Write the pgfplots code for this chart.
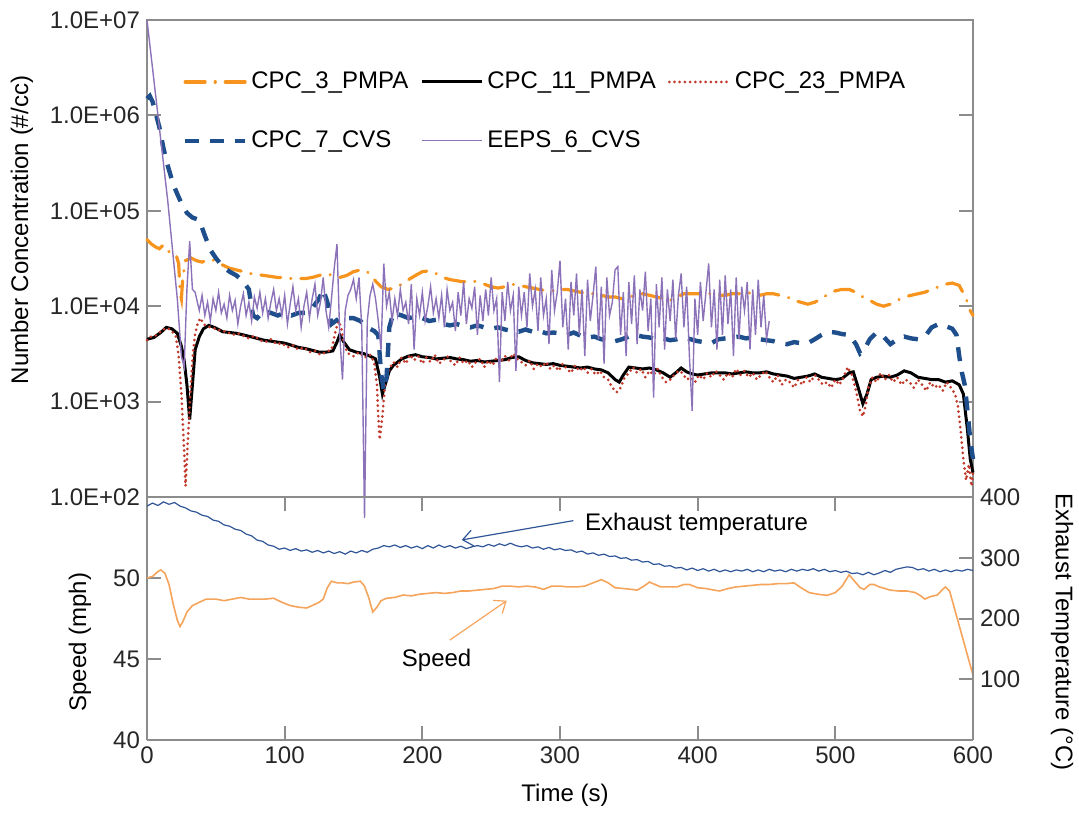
\documentclass[border=0pt]{standalone}
\usepackage{fontspec}
\setmainfont{Liberation Sans}
\usepackage{pgfplots}
\pgfplotsset{compat=1.18}
\usetikzlibrary{arrows.meta}
\definecolor{corange}{HTML}{F7941D}
\definecolor{cred}{HTML}{C0392B}
\definecolor{cblue}{HTML}{1F4E8C}
\definecolor{cpurple}{HTML}{8C72B8}
\definecolor{ctemp}{HTML}{2F5597}
\definecolor{cspeed}{HTML}{F6A45C}
\definecolor{caxis}{HTML}{8C8C8C}
\pgfplotsset{
  every axis/.append style={
    scale only axis, width=413pt, xmin=0, xmax=600,
    tick align=inside, major tick length=7pt,
    axis line style={caxis, line width=1pt},
    tick style={caxis, line width=1pt},
    ticklabel style={font=\fontsize{12}{14}\selectfont, text=black!85},
    /pgf/number format/assume math mode=true,
  }
}
\begin{document}
\begin{tikzpicture}[font=\fontsize{12}{14}\selectfont]
\useasboundingbox (0pt,0pt) rectangle (539.5pt,-406.5pt);
% ---------------- upper panel ----------------
\begin{axis}[
  at={(73.5pt,-248.5pt)}, anchor=south west, height=238.5pt,
  ymode=log, ymin=1e2, ymax=1e7,
  xtick=\empty,
  ytick={1e2,1e3,1e4,1e5,1e6,1e7},
  yticklabels={1.0E+02,1.0E+03,1.0E+04,1.0E+05,1.0E+06,1.0E+07},
  yminorticks=false,
  clip=false,
  legend columns=3,
  legend style={draw=none, fill=none, inner sep=0pt, at={(0.043,0.9)}, anchor=north west,
    font=\fontsize{12}{14}\selectfont, row sep=15.5pt,
    /tikz/every even column/.append style={column sep=4pt}},
  legend cell align=left,
  legend image code/.code={\draw[#1] (0pt,0pt) -- (30pt,0pt);},
]
% CPC_3_PMPA
\addplot[corange, line width=1.6pt, line cap=round, dash pattern=on 10pt off 5pt on 0.1pt off 5pt] coordinates {
(0,50000)(3,45000)(6,42000)(9,40000)(12,44000)(15,38000)(18,36000)(21,35000)(23,28000)(24,14000)(25,12000)(26,20000)(28,30000)(32,32000)(36,30000)(40,29000)(45,31000)(50,30000)(55,27000)(60,25000)(65,24000)(70,23000)(75,22000)(80,21500)(85,21000)(90,20500)(95,20000)(100,20000)(105,19500)(110,19500)(115,19500)(120,20000)(125,21000)(130,22000)(135,21000)(140,20000)(145,21000)(150,23000)(155,24000)(160,23000)(165,19000)(170,16000)(175,15000)(180,15500)(185,17000)(190,19000)(195,21000)(200,23000)(205,23500)(210,22000)(215,20000)(220,19000)(225,18500)(230,18000)(235,18500)(240,18000)(245,17000)(250,16000)(255,15500)(260,16000)(265,17000)(270,16500)(275,16000)(280,15500)(285,15000)(290,14500)(295,14500)(300,15000)(305,15000)(310,14500)(315,14000)(320,13500)(325,13500)(330,13000)(335,12500)(340,12500)(345,12000)(350,12500)(355,13000)(360,13500)(365,13000)(370,12500)(375,12000)(380,11500)(385,12500)(390,13500)(395,13500)(400,13500)(405,13500)(410,13500)(415,13000)(420,13000)(425,13500)(430,13500)(435,14000)(440,13500)(445,13000)(450,13500)(455,13500)(460,13000)(465,12500)(470,11500)(475,11000)(480,10500)(485,11000)(490,12000)(495,13500)(500,14500)(505,15000)(510,15000)(515,14000)(520,12500)(525,11500)(530,10500)(535,10000)(540,10500)(545,11500)(550,12500)(555,13000)(560,13500)(565,14000)(570,15000)(575,16000)(580,17000)(585,17500)(590,16500)(595,12000)(598,9000)(600,8000)};
\addlegendentry{CPC\_3\_PMPA}
% CPC_11_PMPA
\addplot[black, line width=1.5pt] coordinates {
(0,4500)(5,4700)(10,5300)(14,6000)(18,5800)(22,5200)(25,3800)(27,2700)(29,1500)(31,650)(33,1500)(35,3500)(38,4800)(41,5800)(45,6300)(50,5900)(55,5400)(60,5300)(65,5200)(70,5000)(75,4800)(80,4600)(85,4400)(90,4300)(95,4200)(100,4100)(105,3900)(110,3700)(115,3600)(120,3450)(125,3300)(130,3300)(135,3400)(138,4200)(140,5000)(143,4200)(147,3500)(152,3300)(157,3200)(162,3000)(166,2800)(169,1800)(171,1200)(173,1500)(176,2100)(179,2400)(185,2800)(190,3000)(195,3100)(200,2950)(205,2900)(210,2800)(215,2850)(220,2900)(225,2800)(230,2750)(235,2650)(240,2700)(245,2600)(250,2650)(255,2700)(260,2750)(265,2900)(270,2950)(275,2700)(280,2550)(285,2500)(290,2450)(295,2500)(300,2400)(305,2350)(310,2300)(315,2250)(320,2300)(325,2200)(330,2150)(335,2000)(340,1700)(343,1600)(346,1900)(350,2300)(355,2250)(360,2200)(365,2250)(370,2150)(375,2000)(380,1800)(384,2000)(388,2250)(392,2050)(396,1950)(400,1900)(405,1950)(410,2000)(415,2000)(420,2000)(425,1950)(430,2000)(435,2050)(440,2000)(445,2000)(450,2050)(455,1950)(460,1900)(465,1850)(470,1750)(475,1800)(480,1850)(485,1950)(490,1800)(495,1750)(500,1700)(505,1750)(510,2000)(513,2050)(516,1500)(520,950)(523,1200)(526,1700)(530,1800)(535,1850)(540,1800)(545,1900)(550,2100)(555,2000)(560,1800)(565,1750)(570,1700)(575,1700)(580,1600)(585,1650)(590,1500)(593,1200)(596,500)(598,250)(600,180)};
\addlegendentry{CPC\_11\_PMPA}
% CPC_23_PMPA
\addplot[cred, line width=1.5pt, line cap=round, dash pattern=on 0pt off 2.6pt] coordinates {
(0,4400)(3,4800)(6,4900)(9,5300)(12,5700)(15,5900)(18,5500)(21,4800)(23,3000)(25,1200)(27,300)(28,130)(29,250)(31,900)(33,2800)(35,5200)(37,6800)(39,7500)(41,6500)(43,6200)(46,6000)(50,5800)(54,5500)(58,5400)(62,5000)(66,5200)(70,4900)(74,4600)(78,4900)(82,4400)(86,4200)(90,4500)(94,4000)(98,4100)(102,3700)(106,3900)(110,3500)(114,3700)(118,3300)(122,3400)(126,3100)(130,3300)(134,3500)(137,5500)(139,7000)(141,6000)(143,4000)(146,3200)(150,3000)(154,3300)(158,2900)(162,3100)(165,2600)(167,1500)(168,700)(169,400)(171,700)(173,1600)(176,2200)(179,2600)(182,2300)(185,2900)(188,2500)(191,3100)(194,2700)(197,3000)(200,2500)(203,2900)(206,2600)(209,3100)(212,2500)(215,2700)(218,3000)(221,2600)(224,2400)(227,2900)(230,2500)(233,2700)(236,2300)(239,2600)(242,2800)(245,2300)(248,2700)(251,2400)(254,2900)(257,2600)(260,3000)(263,2700)(266,3200)(269,2800)(272,2600)(275,2400)(278,2700)(281,2200)(284,2500)(287,2300)(290,2600)(293,2200)(296,2400)(299,2100)(302,2500)(305,2200)(308,2000)(311,2400)(314,2100)(317,2300)(320,2000)(323,2200)(326,1900)(329,2100)(332,1800)(335,1700)(338,1400)(341,1250)(344,1400)(347,1800)(350,2000)(353,2300)(356,2000)(359,2200)(362,1800)(365,2100)(368,1900)(371,2200)(374,1800)(377,1600)(380,1700)(383,1900)(386,2100)(389,2000)(392,1700)(395,1800)(398,1600)(401,1900)(404,1700)(407,2000)(410,1800)(413,2100)(416,1900)(419,1700)(422,2000)(425,1800)(428,2200)(431,1900)(434,2100)(437,1800)(440,2000)(443,1700)(446,1900)(449,2100)(452,1800)(455,1600)(458,1900)(461,1500)(464,1700)(467,1600)(470,1400)(473,1700)(476,1500)(479,1800)(482,1600)(485,1900)(488,1700)(491,1500)(494,1600)(497,1400)(500,1700)(503,1500)(506,1800)(509,2300)(512,1900)(515,1300)(518,800)(520,700)(522,900)(524,1400)(527,1800)(530,1600)(533,2000)(536,1700)(539,1900)(542,1600)(545,1800)(548,1500)(551,1700)(554,1600)(557,1400)(560,1700)(563,1500)(566,1300)(569,1600)(572,1400)(575,1500)(578,1300)(581,1600)(584,1400)(587,1200)(589,900)(591,500)(593,250)(595,150)(597,220)(599,130)(600,180)};
\addlegendentry{CPC\_23\_PMPA}
% CPC_7_CVS
\addplot[cblue, line width=2.2pt, dash pattern=on 7pt off 5.5pt] coordinates {
(0,1500000)(2,1600000)(4,1400000)(6,1100000)(9,750000)(12,450000)(15,300000)(19,190000)(22,150000)(25,120000)(29,95000)(33,85000)(38,80000)(42,55000)(46,39000)(50,32000)(55,26000)(60,23000)(65,21000)(70,18000)(74,15000)(77,8000)(80,7500)(85,9000)(90,8500)(95,8000)(100,8500)(105,8000)(110,8500)(115,8500)(120,9500)(125,12000)(128,15000)(131,11000)(134,6500)(137,7000)(140,7500)(145,7500)(150,7500)(155,7000)(160,6000)(165,5500)(168,5000)(170,2000)(172,1300)(174,1800)(176,6000)(179,8500)(185,8000)(190,7500)(195,7800)(200,7500)(205,7000)(210,7200)(215,6500)(220,6300)(225,6500)(230,6200)(235,6000)(240,6300)(245,6000)(250,5800)(255,6000)(260,5700)(265,5500)(270,5400)(275,5700)(280,5400)(285,5500)(290,5200)(295,5300)(300,5200)(305,5000)(310,5300)(315,4900)(320,4700)(325,4800)(330,4500)(335,4400)(340,4300)(345,4500)(350,4800)(355,5000)(360,4800)(365,4700)(370,4500)(375,4600)(380,4400)(385,4500)(390,4700)(395,4500)(400,4300)(405,4200)(410,4100)(415,4500)(420,4600)(425,4700)(430,4800)(435,4600)(440,4700)(445,4500)(450,4400)(455,4300)(460,4100)(465,4000)(470,4200)(475,4100)(480,4100)(485,4500)(490,5000)(495,5400)(500,5300)(505,5100)(510,5000)(515,4000)(518,3200)(521,3500)(525,4500)(530,5300)(535,4800)(540,4000)(545,4500)(550,4800)(555,4600)(560,4500)(565,4800)(570,6000)(575,6500)(580,6200)(585,5800)(588,5000)(590,3000)(592,2000)(594,1500)(596,800)(598,400)(600,250)};
\addlegendentry{CPC\_7\_CVS}
% EEPS_6_CVS
\addplot[cpurple, line width=0.7pt] coordinates {
(0,10000000)(15,130000)(22,12000)(25,3000)(27,2300)(29,15000)(31,48000)(33,15000)(35,14000)(36,12000)(38,9000)(40,13000)(42,8000)(44,11000)(46,7000)(48,12000)(50,9000)(52,14000)(54,8500)(56,10500)(58,7500)(60,13000)(62,9000)(64,11500)(66,6500)(68,10000)(70,13500)(72,8000)(74,11000)(76,7000)(78,12500)(80,9500)(82,14000)(84,8500)(86,12000)(88,7500)(90,11000)(92,15000)(94,9000)(96,12000)(98,8000)(100,13000)(102,6500)(104,10500)(106,16000)(108,9000)(110,12000)(112,6000)(114,10000)(116,14000)(118,7500)(120,12000)(122,17000)(124,8000)(126,11000)(128,20000)(130,9000)(132,6000)(134,12000)(136,25000)(138,45000)(140,5000)(142,1700)(144,9000)(146,13000)(148,15000)(150,19000)(152,12000)(154,20000)(156,6000)(158,60)(160,7000)(162,13000)(164,17000)(166,12000)(168,7000)(170,3500)(172,28000)(174,10000)(176,14000)(178,7000)(180,12000)(182,8000)(184,15000)(186,9000)(188,11000)(190,6500)(192,17000)(194,3500)(196,12000)(198,8000)(200,14000)(202,7000)(204,10000)(206,16000)(208,8500)(210,12000)(212,7500)(214,13000)(216,6000)(218,15000)(220,9000)(222,11000)(224,5500)(226,14000)(228,8000)(230,18000)(232,6500)(234,12000)(236,9500)(238,16000)(240,5000)(242,13000)(244,7000)(246,15000)(248,8000)(250,20000)(252,9000)(254,12000)(256,1600)(258,14000)(260,7000)(262,18000)(264,9000)(266,13000)(268,2100)(270,16000)(272,8000)(274,14000)(276,6000)(278,22000)(280,10000)(282,15000)(284,5500)(286,20000)(288,8000)(290,12000)(292,4000)(294,24000)(296,9000)(298,14000)(300,30000)(302,6000)(304,12000)(306,3500)(308,18000)(310,8000)(312,22000)(314,5000)(316,15000)(318,3000)(320,19000)(322,7000)(324,13000)(326,26000)(328,4500)(330,16000)(332,2500)(334,20000)(336,8000)(338,11000)(340,24000)(342,26000)(344,5000)(346,14000)(348,3000)(350,18000)(352,6500)(354,21000)(356,4000)(358,15000)(360,9000)(362,23000)(364,5500)(366,12000)(368,1100)(370,17000)(372,6000)(374,20000)(376,3500)(378,15000)(380,7000)(382,19000)(384,4500)(386,13000)(388,22000)(390,6000)(392,16000)(394,3000)(396,800)(398,12000)(400,5000)(402,18000)(404,7000)(406,14000)(408,28000)(410,6000)(412,15000)(414,3500)(416,19000)(418,5000)(420,21000)(422,6500)(424,15000)(426,3000)(428,20000)(430,4500)(432,16000)(434,9000)(436,18000)(438,3500)(440,15000)(442,5000)(444,19000)(446,6000)(448,13000)(450,4500)(452,7000)};
\addlegendentry{EEPS\_6\_CVS}
\end{axis}
% ---------------- lower panel, left (speed) ----------------
\begin{axis}[
  at={(73.5pt,-248.5pt)}, anchor=north west, height=121.5pt,
  ymin=40, ymax=55, ytick={40,45,50},
  xtick={0,100,...,600},
  axis y line*=left,
]
\addplot[cspeed, line width=0.8pt] coordinates {
(0,50.0)(4,50.1)(8,50.4)(10,50.5)(13,50.3)(16,49.6)(19,48.4)(22,47.4)(24,47.0)(26,47.3)(29,47.9)(33,48.3)(38,48.5)(43,48.7)(50,48.7)(56,48.6)(62,48.7)(68,48.8)(74,48.7)(80,48.7)(86,48.7)(92,48.75)(98,48.5)(104,48.3)(110,48.2)(116,48.15)(120,48.3)(125,48.5)(128,48.7)(131,49.4)(134,49.8)(138,49.7)(142,49.7)(146,49.65)(150,49.75)(155,49.8)(158,49.5)(161,48.8)(164,47.9)(167,48.2)(170,48.6)(174,48.75)(180,48.8)(186,48.95)(192,48.9)(198,49.0)(204,49.05)(210,49.1)(216,49.05)(222,49.1)(228,49.2)(234,49.2)(240,49.25)(246,49.3)(252,49.35)(258,49.5)(264,49.5)(270,49.45)(276,49.5)(282,49.45)(288,49.3)(294,49.5)(300,49.5)(306,49.45)(312,49.45)(318,49.5)(324,49.7)(330,49.9)(335,49.7)(340,49.4)(346,49.35)(352,49.3)(356,49.25)(361,49.5)(365,49.75)(369,49.6)(373,49.45)(380,49.45)(385,49.45)(390,49.6)(394,49.6)(400,49.4)(406,49.35)(412,49.25)(416,49.2)(422,49.35)(428,49.45)(434,49.5)(440,49.55)(446,49.6)(452,49.6)(458,49.65)(464,49.65)(470,49.7)(475,49.4)(481,49.1)(487,49.0)(494,48.93)(500,49.1)(505,49.5)(510,50.2)(514,49.8)(518,49.4)(521,49.3)(525,49.6)(528,49.6)(532,49.45)(536,49.35)(540,49.25)(546,49.2)(552,49.2)(558,49.1)(562,48.9)(565,48.7)(569,48.85)(574,48.95)(578,49.3)(580,49.45)(583,49.2)(600,44.0)};
\draw[ctemp, line width=0.6pt, -{Straight Barb[length=5pt,width=8pt]}] (axis cs:309.7,53.54) -- (axis cs:228.6,52.35);
\node[anchor=west, inner sep=0pt] at (axis cs:318,53.3) {Exhaust temperature};
\draw[cspeed, line width=0.6pt, -{Straight Barb[length=5pt,width=8pt]}] (axis cs:220,46.17) -- (axis cs:261.3,48.6);
\node at (axis cs:210.4,44.94) {Speed};
\end{axis}
% ---------------- lower panel, right (temperature) ----------------
\begin{axis}[
  at={(73.5pt,-248.5pt)}, anchor=north west, height=121.5pt,
  ymin=0, ymax=400, ytick={100,200,300,400},
  axis y line*=right, axis x line=none,
]
\addplot[ctemp, line width=0.6pt] coordinates {
(0,385)(4,390)(8,386)(12,392)(16,388)(20,391)(24,385)(28,382)(32,377)(36,375)(40,370)(44,368)(48,362)(52,360)(56,354)(60,352)(64,347)(68,345)(72,339)(76,336)(80,329)(84,327)(88,321)(92,319)(96,314)(100,316)(104,312)(108,315)(112,311)(116,313)(120,309)(124,312)(128,308)(132,311)(136,307)(140,310)(144,306)(148,311)(152,308)(156,312)(160,309)(164,314)(168,316)(172,320)(176,318)(180,321)(184,317)(188,320)(192,316)(196,319)(200,315)(204,320)(208,316)(212,321)(216,317)(220,320)(224,316)(228,319)(232,315)(236,318)(240,320)(244,318)(248,322)(252,319)(256,323)(260,320)(264,324)(268,320)(272,318)(276,320)(280,316)(284,318)(288,314)(292,317)(296,313)(300,315)(304,312)(308,313)(312,309)(316,311)(320,306)(324,308)(328,304)(332,306)(336,302)(340,303)(344,299)(348,300)(352,296)(356,297)(360,293)(364,294)(368,289)(372,290)(376,286)(380,287)(384,283)(388,284)(392,280)(396,283)(400,279)(404,282)(408,278)(412,281)(416,277)(420,280)(424,277)(428,280)(432,278)(436,281)(440,277)(444,280)(448,277)(452,281)(456,278)(460,280)(464,277)(468,281)(472,278)(476,281)(480,279)(484,282)(488,278)(492,281)(496,277)(500,279)(504,276)(508,278)(512,274)(516,275)(520,272)(524,276)(528,272)(532,275)(536,279)(540,276)(544,281)(548,283)(552,285)(556,284)(560,280)(564,282)(568,278)(572,281)(576,277)(580,280)(584,277)(588,280)(592,278)(596,281)(600,279)};
\end{axis}
% ---------------- axis titles ----------------
\node[rotate=90] at (11pt,-115pt) {Number Concentration (\#/cc)};
\node[rotate=90] at (40pt,-321pt) {Speed (mph)};
\node[rotate=-90] at (531pt,-316pt) {Exhaust Temperature (°C)};
\node at (282.5pt,-397.5pt) {Time (s)};
\end{tikzpicture}
\end{document}
